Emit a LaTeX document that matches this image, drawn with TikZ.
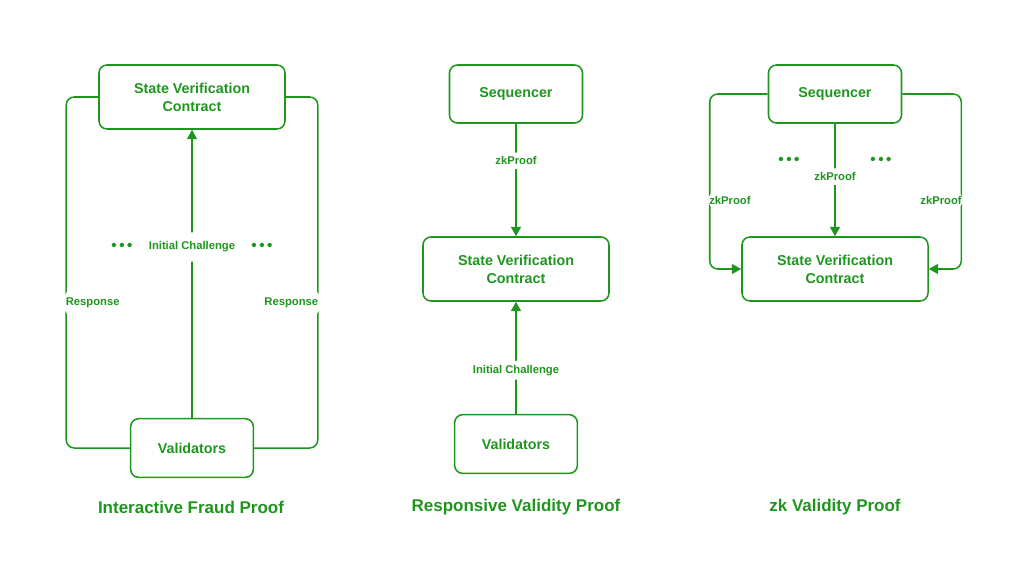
\documentclass[tikz,border=0pt]{standalone}
\usepackage{fontspec}
\setmainfont{Liberation Sans}
\usepackage{tikz}
\usetikzlibrary{arrows.meta}

\definecolor{proofgreen}{RGB}{30,150,30}

\tikzset{
  box/.style={draw=proofgreen,line width=1.3pt,rounded corners=0.24cm,
              text=proofgreen,font=\fontsize{12.2}{15.3}\selectfont\bfseries,
              align=center,inner sep=0pt},
  bigbox/.style={box,minimum width=5.58cm,minimum height=1.92cm},
  seqbox/.style={box,minimum width=3.99cm,minimum height=1.74cm},
  valbox/.style={box,minimum width=3.68cm,minimum height=1.76cm},
  lbl/.style={fill=white,text=proofgreen,inner xsep=1pt,inner ysep=3.5pt,
              font=\fontsize{9.6}{12}\selectfont\bfseries},
  dotlbl/.style={text=proofgreen,font=\fontsize{13}{14}\selectfont\bfseries},
  caption/.style={text=proofgreen,font=\fontsize{14.5}{17}\selectfont\bfseries}
}
\newcommand{\threedots}{•\hspace{2.2pt}•\hspace{2.2pt}•}

\begin{document}
\begin{tikzpicture}[x=0.03cm,y=-0.03cm,>={Triangle[length=8pt,width=8.5pt]},
                    line width=1.3pt,draw=proofgreen,rounded corners=0.24cm]
   \useasboundingbox (0,0) rectangle (1024,570);

   % interactive fraud proof
   \node[bigbox] (svc1) at (192,97) {State Verification\\Contract};
   \node[valbox] (val1) [below of=svc1,node distance=10.53cm] {Validators};
   \path[->,draw=proofgreen]
    (val1) edge node[lbl,pos=0.593,inner ysep=8pt] (ic1) {Initial Challenge} (svc1);
   \draw (svc1.west) -- ++(-32,0)
     |- node[lbl,pos=0.293,anchor=west,xshift=-2pt,inner ysep=7pt] (rl1) {Response} (val1.west);
   \draw (svc1.east) -- ++(32,0)
     |- node[lbl,pos=0.293,anchor=east,xshift=2pt,inner ysep=7pt] (rr1) {Response} (val1.east);
   \node[dotlbl] (dl1) at (122,247) {\threedots};
   \node[dotlbl] (dr1) at (262,247) {\threedots};
   \node[caption] (t1) at (191,507) {Interactive Fraud Proof};

   % responsive validity proof
   \node[seqbox] (seq2) at (516,94) {Sequencer};
   \node[bigbox] (svc2) [below of=seq2,node distance=5.25cm] {State Verification\\Contract};
   \node[valbox] (val2) [below of=svc2,node distance=5.25cm] {Validators};
   \path[->,draw=proofgreen]
    (seq2) edge node[lbl,pos=0.33] (zk2) {zkProof} (svc2)
    (val2) edge node[lbl,pos=0.39] (ic2) {Initial Challenge} (svc2);
   \node[caption] (t2) at (516,507) {Responsive Validity Proof};

   % zk validity proof
   \node[seqbox] (seq3) at (835,94) {Sequencer};
   \node[bigbox] (svc3) [below of=seq3,node distance=5.25cm] {State Verification\\Contract};
   \path[->,draw=proofgreen]
    (seq3) edge node[lbl,pos=0.47] (zkm3) {zkProof} (svc3);
   \draw[->] (seq3.west) -- ++(-58,0)
     |- node[lbl,pos=0.303,anchor=west,xshift=-2pt] (zkl3) {zkProof} (svc3.west);
   \draw[->] (seq3.east) -- ++(59,0)
     |- node[lbl,pos=0.303,anchor=east,xshift=2pt] (zkr3) {zkProof} (svc3.east);
   \node[dotlbl] (dl3) at (789,161) {\threedots};
   \node[dotlbl] (dr3) at (881,161) {\threedots};
   \node[caption] (t3) at (835,507) {zk Validity Proof};

\end{tikzpicture}
\end{document}
